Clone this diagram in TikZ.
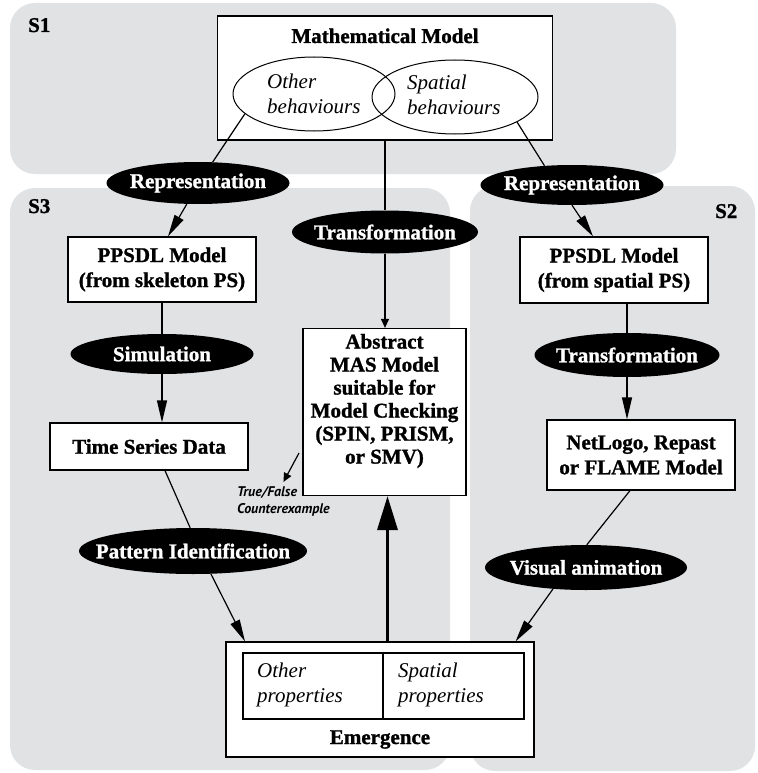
\documentclass[tikz,border=0pt]{standalone}
\usepackage{fontspec}
\setmainfont{Liberation Serif}[BoldFeatures={FakeBold=1.2}]
\newfontfamily\notesans{PT Sans}
\usetikzlibrary{arrows.meta,shapes.geometric}
\definecolor{regionfill}{RGB}{225,226,228}
\begin{document}
\begin{tikzpicture}[x=1pt,y=-1pt,
  txt/.style={inner sep=0pt, font=\fontsize{21}{25}\selectfont},
  box/.style={draw, fill=white, line width=1.2pt, inner sep=0pt, align=center,
              font=\fontsize{21}{25}\selectfont\bfseries},
  oval/.style={ellipse, fill=black, text=white, inner sep=0pt,
               font=\fontsize{21}{25}\selectfont\bfseries},
  venn/.style={ellipse, draw, line width=1pt, inner sep=0pt},
  region/.style={fill=regionfill, rounded corners=25pt},
  link/.style={line width=1.2pt},
  arr/.style={link, -{Triangle[length=22pt,width=10pt]}},
  tinyarr/.style={link, -{Triangle[length=9pt,width=8pt]}},
  bigarr/.style={line width=3.5pt, -{Triangle[length=34pt,width=20pt]}},
  tag/.style={inner sep=0pt, anchor=base west, font=\fontsize{21}{24}\selectfont\bfseries}
]
\useasboundingbox (0,0) rectangle (757,773);

% shaded stages
\fill[region] (10,3) rectangle (676,174);
\fill[region] (10,188) rectangle (450,770);
\fill[region] (470,186) rectangle (755,771);
\node[tag] (s1) at (28,32) {S1};
\node[tag] (s3) at (28,213) {S3};
\node[tag] (s2) at (715,218) {S2};

% mathematical model with its two behaviour sets
\node[box, minimum width=335pt, minimum height=124pt] (math) at (385,78) {};
\node[txt, font=\fontsize{21}{25}\selectfont\bfseries, anchor=base] (mathT) at (385,43) {Mathematical Model};
\node[venn, minimum width=162pt, minimum height=74pt] (oth) at (314,94) {};
\node[venn, minimum width=166pt, minimum height=74pt] (spa) at (455,97) {};
\node[txt, font=\fontsize{21}{25}\selectfont\itshape, align=left, anchor=west] (othT) at (267,93.4) {Other\\behaviours};
\node[txt, font=\fontsize{21}{25}\selectfont\itshape, align=left, anchor=west] (spaT) at (407,94.5) {Spatial\\behaviours};

% process ovals
\node[oval, minimum width=183pt, minimum height=42pt] (repL) at (198,183) {\makebox[0pt]{Representation}};
\node[oval, minimum width=183pt, minimum height=40pt] (repR) at (572,185) {\makebox[0pt]{Representation}};
\node[oval, minimum width=186pt, minimum height=43pt] (transM) at (385,232) {\makebox[0pt]{Transformation}};
\node[oval, minimum width=183pt, minimum height=40pt] (sim) at (162,354) {\makebox[0pt]{Simulation}};
\node[oval, minimum width=185pt, minimum height=44pt] (transR) at (627,355) {\makebox[0pt]{Transformation}};
\node[oval, minimum width=228pt, minimum height=46pt] (pat) at (193,551) {\makebox[0pt]{Pattern Identification}};
\node[oval, minimum width=202pt, minimum height=45pt] (vis) at (586,567.5) {\makebox[0pt]{Visual animation}};

% models
\node[box, minimum width=188pt, minimum height=65pt] (ppL) at (162,269.5) {PPSDL Model\\(from skeleton PS)};
\node[box, minimum width=188pt, minimum height=66pt] (ppR) at (614,270) {PPSDL Model\\(from spatial PS)};
\node[box, minimum width=198pt, minimum height=47pt] (tsd) at (149,446.5) {Time Series Data};
\node[box, minimum width=188pt, minimum height=70pt] (net) at (641,455) {NetLogo, Repast\\or FLAME Model};
\node[box, minimum width=163pt, minimum height=167pt] (abs) at (384.5,412) {};
\node[txt, font=\fontsize{21}{23}\selectfont\bfseries, align=center] (absT) at (384.5,401)
  {Abstract\\MAS Model\\suitable for\\Model Checking\\(SPIN, PRISM,\\or SMV)};

% emergence
\node[box, minimum width=308pt, minimum height=115pt] (emg) at (380,699.5) {};
\node[box, minimum width=140pt, minimum height=66pt] (op) at (313,686) {};
\node[box, minimum width=141pt, minimum height=66pt] (sp) at (453.5,686) {};
\node[txt, font=\fontsize{21}{25}\selectfont\itshape, align=left, anchor=west] (opT) at (257,685) {Other\\properties};
\node[txt, font=\fontsize{21}{25}\selectfont\itshape, align=left, anchor=west] (spT) at (398,685) {Spatial\\properties};
\node[txt, font=\fontsize{21}{25}\selectfont\bfseries, anchor=base] (emgT) at (380,744) {Emergence};

% model checking result
\node[inner xsep=0pt, inner ysep=4pt, anchor=north west, align=left,
      font=\fontsize{14}{17}\selectfont\notesans\bfseries\itshape] (tf) at (237,482)
  {True/False\\Counterexample};
\coordinate (c1) at (299,453);

% connectors
\draw[link] (oth.196) -- (repL.55);
\draw[arr] (repL.242) -- ([xshift=6pt]ppL.north);
\draw[link] (math.south) -- (transM);
\draw[tinyarr] (transM) -- (transM |- abs.north);
\draw[link] (spa.338) -- (repR.145);
\draw[arr] (repR.south) -- ([xshift=-21pt]ppR.north);
\draw[link] (ppL.south) -- (sim);
\draw[arr] (sim.south) -- (sim.south |- tsd.north);
\draw[link] ([xshift=16pt]tsd.south) -- (pat.97);
\draw[arr] (pat.308) -- ([xshift=-135pt]emg.north);
\draw[link] (transR.north |- ppR.south) -- (transR.north);
\draw[arr] (transR.south) -- (transR.south |- net.north);
\draw[link] ([xshift=-11pt]net.south) -- (vis.88);
\draw[arr] (vis.213) -- ([xshift=-19pt]emg.north east);
\draw[bigarr] ([xshift=3pt]abs.south |- emg.north) -- ([xshift=3pt]abs.south);
\draw[tinyarr] (c1) -- (tf.north);
\end{tikzpicture}
\end{document}
